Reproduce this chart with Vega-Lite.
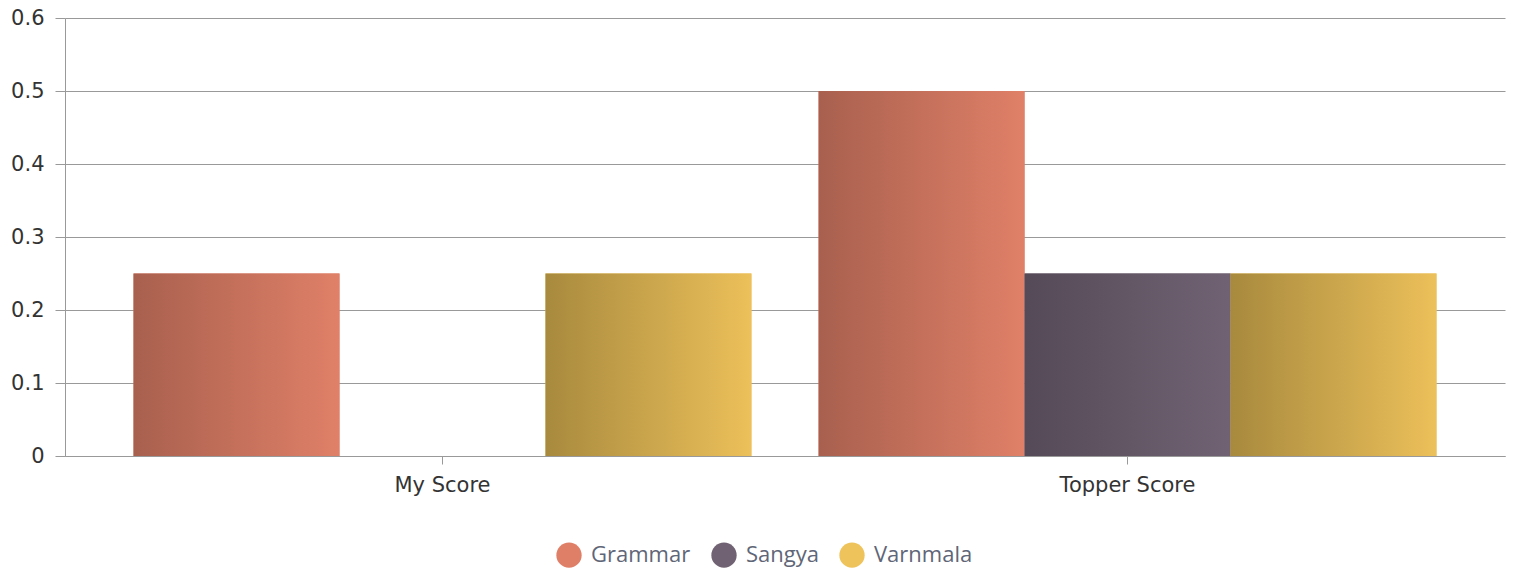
{
  "$schema": "https://vega.github.io/schema/vega-lite/v6.json",
  "autosize": {"type": "none"},
  "width": 1440,
  "height": 438,
  "padding": {"left": 65, "top": 18, "right": 12, "bottom": 116},
  "background": "white",
  "data": {
    "values": [
      {"category": "My Score", "subject": "Grammar", "value": 0.25},
      {"category": "My Score", "subject": "Sangya", "value": 0},
      {"category": "My Score", "subject": "Varnmala", "value": 0.25},
      {"category": "Topper Score", "subject": "Grammar", "value": 0.5},
      {"category": "Topper Score", "subject": "Sangya", "value": 0.25},
      {"category": "Topper Score", "subject": "Varnmala", "value": 0.25}
    ]
  },
  "encoding": {
    "x": {
      "field": "category", "type": "nominal",
      "scale": {"paddingInner": 0, "paddingOuter": 0.051},
      "axis": {"title": null, "labelAngle": 0, "tickSize": 8, "labelPadding": 10}
    },
    "xOffset": {
      "field": "subject", "type": "nominal",
      "scale": {"domain": ["Grammar", "Sangya", "Varnmala"], "paddingInner": 0, "paddingOuter": 0.163}
    },
    "y": {
      "field": "value", "type": "quantitative",
      "scale": {"domain": [0, 0.6], "nice": false},
      "axis": {"title": null, "tickCount": 6, "format": ".1~f", "tickSize": 10, "labelPadding": 11}
    }
  },
  "layer": [
    {
      "mark": {"type": "bar"},
      "encoding": {
        "color": {
          "field": "subject", "type": "nominal",
          "scale": {"domain": ["Grammar", "Sangya", "Varnmala"], "range": ["#e07f68", "#706272", "#eec35c"]},
          "legend": {
            "title": null, "orient": "none", "direction": "horizontal",
            "legendX": 491, "legendY": 524,
            "symbolType": "circle", "symbolSize": 640, "symbolOpacity": 1, "symbolStrokeWidth": 0,
            "labelFont": "Open Sans", "labelFontSize": 22, "labelColor": "#5f6677",
            "labelOffset": 9, "columnPadding": 20
          }
        }
      }
    },
    {
      "transform": [{"filter": "datum.subject === 'Grammar'"}],
      "mark": {"type": "bar", "fill": {"gradient": "linear", "x1": 0, "x2": 1, "y1": 0, "y2": 0, "stops": [{"offset": 0, "color": "#a8604e"}, {"offset": 1, "color": "#e08068"}]}}
    },
    {
      "transform": [{"filter": "datum.subject === 'Sangya'"}],
      "mark": {"type": "bar", "fill": {"gradient": "linear", "x1": 0, "x2": 1, "y1": 0, "y2": 0, "stops": [{"offset": 0, "color": "#554a58"}, {"offset": 1, "color": "#706272"}]}}
    },
    {
      "transform": [{"filter": "datum.subject === 'Varnmala'"}],
      "mark": {"type": "bar", "fill": {"gradient": "linear", "x1": 0, "x2": 1, "y1": 0, "y2": 0, "stops": [{"offset": 0, "color": "#a88a3e"}, {"offset": 1, "color": "#ecc05a"}]}}
    }
  ],
  "config": {
    "view": {"stroke": null},
    "axis": {
      "gridOpacity": 1, "gridColor": "#999999", "tickColor": "#999999", "domainColor": "#999999",
      "labelFont": "DejaVu Sans", "labelFontSize": 21, "labelColor": "#333333"
    }
  }
}
